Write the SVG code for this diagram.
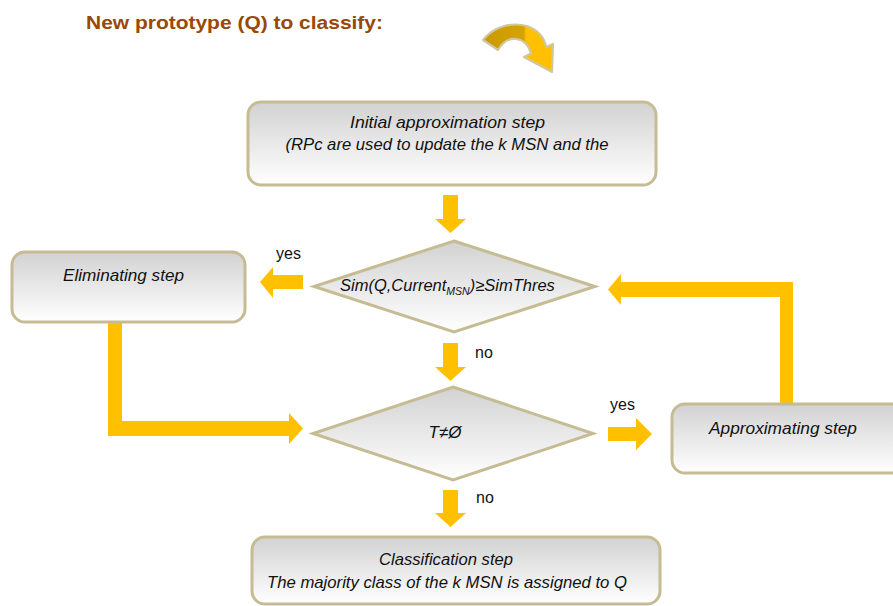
<svg xmlns="http://www.w3.org/2000/svg" width="893" height="606" viewBox="0 0 893 606">
  <defs>
    <linearGradient id="boxFill" x1="0" y1="0" x2="0" y2="1">
      <stop offset="0" stop-color="#d2d2d2"/>
      <stop offset="1" stop-color="#ffffff"/>
    </linearGradient>
    <linearGradient id="curveFill" x1="0" y1="0" x2="1" y2="0">
      <stop offset="0" stop-color="#c99a00"/>
      <stop offset="0.58" stop-color="#d6a300"/>
      <stop offset="0.62" stop-color="#ffc000"/>
      <stop offset="1" stop-color="#ffc000"/>
    </linearGradient>
  </defs>
  <style>
    .box { fill: url(#boxFill); stroke: #c6bc94; stroke-width: 3; }
    .arrow { fill: #ffc000; stroke: none; }
    .t { font-family: "Liberation Sans", Arial, sans-serif; font-size: 17px; font-style: italic; fill: #111; }
    .lbl { font-family: "Liberation Sans", Arial, sans-serif; font-size: 16px; fill: #111; }
    .title { font-family: "Liberation Sans", Arial, sans-serif; font-size: 18.5px; font-weight: bold; fill: #984807; }
  </style>
  <rect width="893" height="606" fill="#ffffff"/>

  <g id="title">
    <text class="title" x="86" y="29" textLength="297" lengthAdjust="spacingAndGlyphs">New prototype (Q) to classify:</text>
    <path d="M483,40 C494,26 512,22 527,26 C538,30 545,38 546,47 L553,44 L552,72 L524,57 L531,53.5 C529,46 524,40 516,39 C508,38 502,43 498,50 Z" fill="url(#curveFill)" stroke="#d0c7a2" stroke-width="2.2" stroke-linejoin="round"/>
  </g>

  <g id="connectors">
    <polygon class="arrow" points="443,195 458,195 458,219 466,219 450.5,233 435,219 443,219"/>
    <polygon class="arrow" points="443,343 458,343 458,367 466,367 450.5,381 435,367 443,367"/>
    <polygon class="arrow" points="443,490 458,490 458,513 466,513 450.5,527 435,513 443,513"/>
    <polygon class="arrow" points="303,275 303,289 273,289 273,298 260,282 273,267 273,275"/>
    <polygon class="arrow" points="608,427 636,427 636,418 652,434 636,450 636,441 608,441"/>
    <polygon class="arrow" points="793,404 780,404 780,297 621,297 621,305 608,289.5 621,274 621,282 793,282"/>
    <polygon class="arrow" points="108,321 122,321 122,421 289,421 289,413 303,428.5 289,444 289,436 108,436"/>
    <text class="lbl" x="276" y="259">yes</text>
    <text class="lbl" x="475" y="358">no</text>
    <text class="lbl" x="610" y="410">yes</text>
    <text class="lbl" x="476" y="503">no</text>
  </g>

  <g id="initial">
    <rect class="box" x="248" y="102" width="408" height="83" rx="13"/>
    <text class="t" x="447.5" y="128" text-anchor="middle" textLength="195" lengthAdjust="spacingAndGlyphs">Initial approximation step</text>
    <text class="t" x="447" y="150" text-anchor="middle" textLength="323" lengthAdjust="spacingAndGlyphs">(RPc are used to update the k MSN and the</text>
  </g>

  <g id="decision1">
    <polygon class="box" points="454,241 595,286.5 454,332 314,286.5"/>
    <text class="t" x="340" y="291" style="font-size:16.5px">Sim(Q,Current<tspan dy="4" style="font-size:10.5px">MSN</tspan><tspan dy="-4">)≥SimThres</tspan></text>
  </g>

  <g id="eliminating">
    <rect class="box" x="12" y="252" width="233" height="70" rx="13"/>
    <text class="t" x="123.5" y="281" text-anchor="middle" textLength="121" lengthAdjust="spacingAndGlyphs">Eliminating step</text>
  </g>

  <g id="decision2">
    <polygon class="box" points="453,387 593,433.5 453,480 313,433.5"/>
    <text class="t" x="445" y="438" text-anchor="middle">T≠Ø</text>
  </g>

  <g id="approximating">
    <rect class="box" x="672" y="404" width="240" height="69" rx="13"/>
    <text class="t" x="783" y="434" text-anchor="middle" textLength="148" lengthAdjust="spacingAndGlyphs">Approximating step</text>
  </g>

  <g id="classification">
    <rect class="box" x="252" y="537" width="408" height="67" rx="13"/>
    <text class="t" x="446" y="565" text-anchor="middle" textLength="134" lengthAdjust="spacingAndGlyphs">Classification step</text>
    <text class="t" x="447" y="588" text-anchor="middle" textLength="360" lengthAdjust="spacingAndGlyphs">The majority class of the k MSN is assigned to Q</text>
  </g>
</svg>
